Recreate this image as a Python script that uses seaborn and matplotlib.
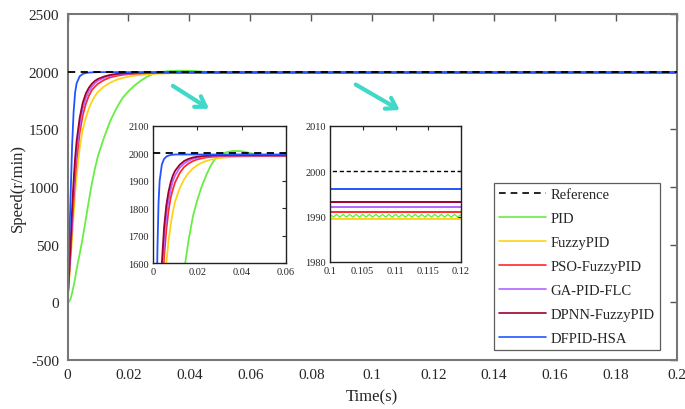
import numpy as np
import pandas as pd
import matplotlib.pyplot as plt
import seaborn as sns

# -----------------------------------
# Data
# -----------------------------------
t = [0, 0.0005, 0.001, 0.0015, 0.002, 0.0025, 0.003, 0.004, 0.005, 0.006,
     0.007, 0.008, 0.009, 0.010, 0.012, 0.014, 0.016, 0.018, 0.020, 0.022,
     0.024, 0.026, 0.028, 0.030, 0.033, 0.036, 0.040, 0.044, 0.048, 0.052,
     0.060, 0.080, 0.100, 0.200]

ref = [2000] * len(t)

pid = [0, 5, 30, 80, 140, 210, 290, 420, 560, 720,
       880, 1030, 1160, 1270, 1430, 1570, 1680, 1770, 1830, 1880,
       1920, 1955, 1980, 1995, 2004, 2009, 2008, 2001, 1994, 1991,
       1990.2, 1990.2, 1990.2, 1990.2]

fuzzy = [0, 180, 360, 560, 760, 940, 1100, 1340, 1500, 1600,
         1680, 1740, 1790, 1825, 1872, 1905, 1928, 1945, 1957, 1966,
         1972, 1977, 1980, 1983, 1985.5, 1987, 1988.3, 1989, 1989.4, 1989.5,
         1989.5, 1989.5, 1989.5, 1989.5]

pso = [0, 210, 420, 660, 880, 1080, 1240, 1470, 1620, 1720,
       1790, 1840, 1870, 1895, 1928, 1950, 1963, 1972, 1978, 1982,
       1985, 1987, 1988.5, 1989.5, 1990.3, 1990.8, 1991, 1991, 1991, 1991,
       1991, 1991, 1991, 1991]

ga = [0, 230, 460, 730, 970, 1170, 1320, 1540, 1680, 1770,
      1830, 1870, 1900, 1920, 1947, 1963, 1973, 1980, 1984, 1987,
      1989, 1990, 1991, 1991.6, 1992, 1992.2, 1992.2, 1992.2, 1992.2, 1992.2,
      1992.2, 1992.2, 1992.2, 1992.2]

dpnn = [0, 250, 500, 800, 1050, 1250, 1400, 1600, 1730, 1810,
        1860, 1895, 1920, 1937, 1958, 1972, 1980, 1985, 1988, 1990,
        1991, 1992, 1992.7, 1993.1, 1993.2, 1993.2, 1993.2, 1993.2, 1993.2, 1993.2,
        1993.2, 1993.2, 1993.2, 1993.2]

dfpid = [0, 450, 900, 1350, 1650, 1820, 1900, 1960, 1980, 1988,
         1992, 1994, 1995, 1996, 1996, 1996, 1996, 1996, 1996, 1996,
         1996, 1996, 1996, 1996, 1996, 1996, 1996, 1996, 1996, 1996,
         1996, 1996, 1996, 1996]

# small ripple of the PID curve seen in the second zoom window
ripple_t = [0.1000, 0.1005, 0.1010, 0.1015, 0.1020, 0.1025, 0.1030, 0.1035, 0.1040, 0.1045,
            0.1050, 0.1055, 0.1060, 0.1065, 0.1070, 0.1075, 0.1080, 0.1085, 0.1090, 0.1095,
            0.1100, 0.1105, 0.1110, 0.1115, 0.1120, 0.1125, 0.1130, 0.1135, 0.1140, 0.1145,
            0.1150, 0.1155, 0.1160, 0.1165, 0.1170, 0.1175, 0.1180, 0.1185, 0.1190, 0.1195,
            0.1200]
ripple_v = [1990.5, 1989.9, 1990.5, 1989.9, 1990.5, 1989.9, 1990.5, 1989.9, 1990.5, 1989.9,
            1990.5, 1989.9, 1990.5, 1989.9, 1990.5, 1989.9, 1990.5, 1989.9, 1990.5, 1989.9,
            1990.5, 1989.9, 1990.5, 1989.9, 1990.5, 1989.9, 1990.5, 1989.9, 1990.5, 1989.9,
            1990.5, 1989.9, 1990.5, 1989.9, 1990.5, 1989.9, 1990.5, 1989.9, 1990.5, 1989.9,
            1990.5]

names = ["PID", "FuzzyPID", "PSO-FuzzyPID", "GA-PID-FLC", "DPNN-FuzzyPID", "DFPID-HSA"]
colors = ["#66ee44", "#ffd21a", "#ff2a2a", "#b266ff", "#a0002c", "#2255ff"]
series = [pid, fuzzy, pso, ga, dpnn, dfpid]

frames = []
for n, s in zip(names, series):
    frames.append(pd.DataFrame({"t": t, "v": s, "ctrl": n}))
df = pd.concat(frames, ignore_index=True)
df_ref = pd.DataFrame({"t": t, "v": ref})

# PID with ripple for the second inset
pid_zoom = pd.DataFrame({"t": ripple_t, "v": ripple_v})

# -----------------------------------
# Figure
# -----------------------------------
sns.set_style("white")
plt.rcParams["font.family"] = ["Liberation Serif", "DejaVu Serif"]
plt.rcParams["xtick.direction"] = "in"
plt.rcParams["ytick.direction"] = "in"
plt.rcParams["axes.unicode_minus"] = False

fig = plt.figure(figsize=(6.85, 4.10), dpi=100)
ax = fig.add_axes([67.5 / 685, 49 / 410, (677 - 67.5) / 685, (361 - 15) / 410])

pal = dict(zip(names, colors))


def draw(a, lw):
    sns.lineplot(data=df, x="t", y="v", hue="ctrl", palette=pal, hue_order=names,
                 lw=lw, ax=a, legend=False, estimator=None, sort=False)
    sns.lineplot(data=df_ref, x="t", y="v", color="black", lw=lw, ax=a,
                 linestyle=(0, (4, 3)), legend=False, zorder=5)


draw(ax, 1.3)
ax.set_xlim(0, 0.2)
ax.set_ylim(-500, 2500)
ax.set_xticks(np.arange(0, 0.201, 0.02))
ax.set_xticklabels(["0", "0.02", "0.04", "0.06", "0.08", "0.1", "0.12", "0.14", "0.16", "0.18", "0.2"])
ax.set_yticks(np.arange(-500, 2501, 500))
ax.tick_params(labelsize=11, top=True, right=True, length=5, width=1, color="#555555", pad=6)
for sp in ax.spines.values():
    sp.set_color("#777777")
    sp.set_linewidth(1.5)
ax.set_xlabel("Time(s)", fontsize=12, labelpad=5)
ax.set_ylabel("Speed(r/min)", fontsize=12, labelpad=2)

# legend
handles = [plt.Line2D([], [], color="black", lw=1.2, linestyle=(0, (4, 3)))]
handles += [plt.Line2D([], [], color=c, lw=1.2) for c in colors]
leg = ax.legend(handles, ["Reference"] + names, loc="lower left",
                bbox_to_anchor=(0.70, 0.029), fontsize=10.5, handlelength=3.2,
                handletextpad=0.3, labelspacing=0.74, borderpad=0.35,
                frameon=True, fancybox=False, borderaxespad=0)
leg.get_frame().set_edgecolor("#333333")
leg.get_frame().set_linewidth(0.9)

# arrows
arrow_color = "#40d8c8"
ax.annotate("", xy=(0.0472, 1665), xytext=(0.0338, 1890),
            arrowprops=dict(arrowstyle="->,head_length=0.7,head_width=0.45", color=arrow_color, lw=3))
ax.annotate("", xy=(0.1098, 1655), xytext=(0.0938, 1900),
            arrowprops=dict(arrowstyle="->,head_length=0.7,head_width=0.45", color=arrow_color, lw=3))

# inset 1
ax1 = fig.add_axes([153 / 685, (410 - 264) / 410, (286 - 153) / 685, (264 - 127) / 410])
draw(ax1, 1.3)
ax1.set_xlim(0, 0.06)
ax1.set_ylim(1600, 2100)
ax1.set_xticks([0, 0.02, 0.04, 0.06])
ax1.set_xticklabels(["0", "0.02", "0.04", "0.06"])
ax1.set_yticks(np.arange(1600, 2101, 100))
ax1.tick_params(labelsize=7.5, top=True, right=True, length=3, width=0.8, pad=3)
ax1.set_xlabel("")
ax1.set_ylabel("")
for sp in ax1.spines.values():
    sp.set_color("#222222")
    sp.set_linewidth(1.0)

# inset 2
ax2 = fig.add_axes([330 / 685, (410 - 263) / 410, (461 - 330) / 685, (263 - 127) / 410])
sns.lineplot(data=df[df["ctrl"] != "PID"], x="t", y="v", hue="ctrl", palette=pal,
             hue_order=names, lw=1.4, ax=ax2, legend=False, estimator=None, sort=False)
sns.lineplot(data=pid_zoom, x="t", y="v", color=colors[0], lw=1.0, ax=ax2, legend=False)
sns.lineplot(data=df_ref, x="t", y="v", color="black", lw=1.0, ax=ax2,
             linestyle=(0, (3, 2)), legend=False)
ax2.set_xlim(0.1, 0.12)
ax2.set_ylim(1980, 2010)
ax2.set_xticks([0.1, 0.105, 0.11, 0.115, 0.12])
ax2.set_xticklabels(["0.1", "0.105", "0.11", "0.115", "0.12"])
ax2.set_yticks([1980, 1990, 2000, 2010])
ax2.tick_params(labelsize=7.5, top=True, right=True, length=3, width=0.8, pad=3)
ax2.set_xlabel("")
ax2.set_ylabel("")
for sp in ax2.spines.values():
    sp.set_color("#222222")
    sp.set_linewidth(1.0)

fig.savefig("out.png", dpi=100)
